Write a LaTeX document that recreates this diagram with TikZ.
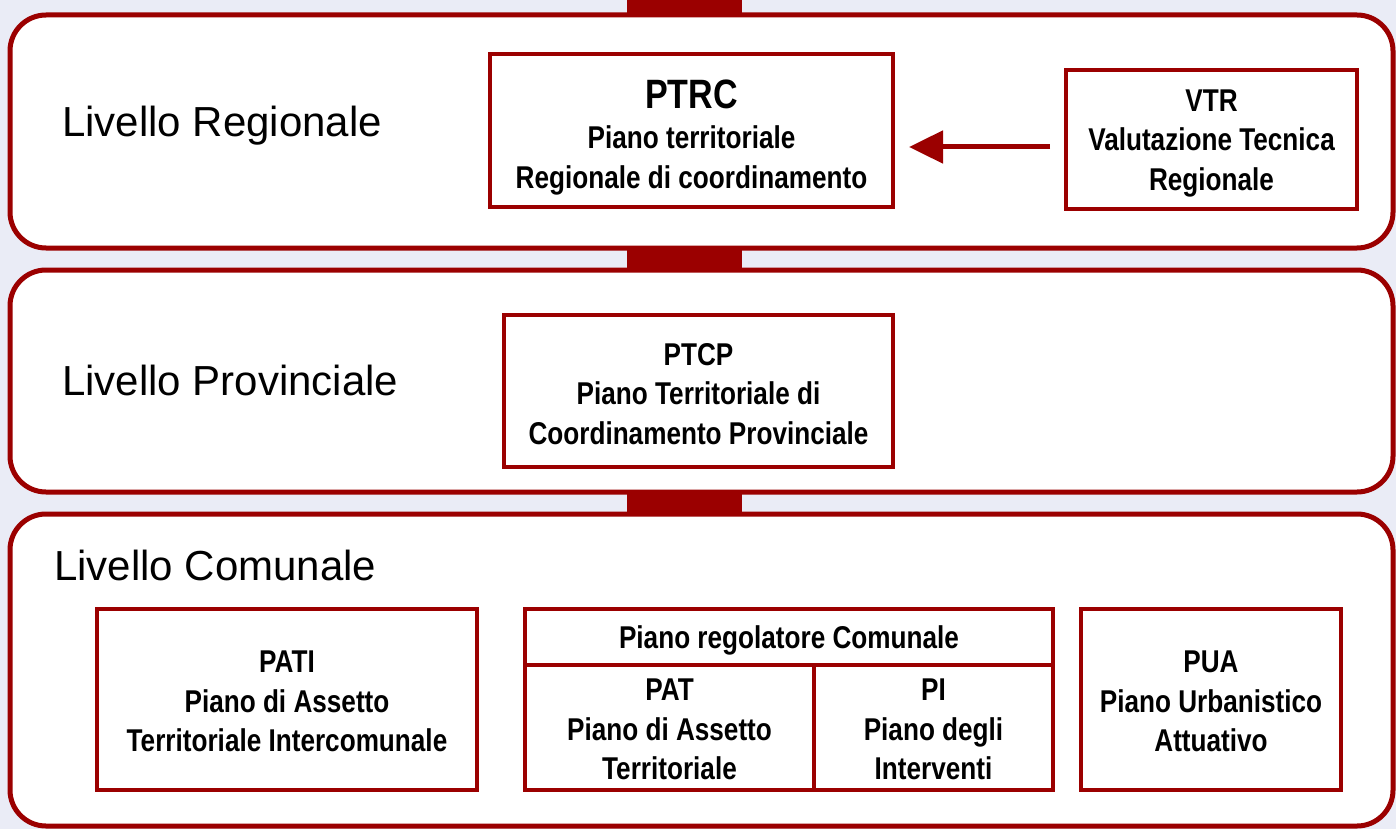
\documentclass[tikz,border=0pt]{standalone}
\usepackage{fontspec}
\setmainfont{Liberation Sans}
\newfontfamily\boxfont{Liberation Sans Bold}[FakeStretch=0.83]
\usetikzlibrary{arrows.meta}
\definecolor{dred}{RGB}{155,0,0}
\definecolor{bgblue}{RGB}{234,236,246}
\tikzset{
  level/.style={draw=dred, line width=5pt, fill=white, rounded corners=36pt},
  lvllabel/.style={anchor=base west, inner sep=0pt, font=\fontsize{42}{50}\selectfont},
  planbox/.style={draw=dred, line width=4pt, fill=white, inner sep=0pt},
  plantext/.style={align=center, inner sep=0pt, font=\boxfont\fontsize{31.5}{39.5}\selectfont},
  conn/.style={dred, line width=5pt, -{Triangle[length=34pt,width=32pt]}},
}
\begin{document}
\begin{tikzpicture}[x=1pt,y=-1pt]
\useasboundingbox (0,0) rectangle (1396,829);
\fill[bgblue] (0,0) rectangle (1396,829);
% vertical connecting bar
\fill[dred] (627,0) rectangle (742,520);
% level frames
\draw[level] (10,15) rectangle (1393,248);
\draw[level] (10,270) rectangle (1393,492);
\draw[level] (10,514) rectangle (1393,826);
% level labels
\node[lvllabel] (lreg) at (62,137) {Livello Regionale};
\node[lvllabel] (lprov) at (62,395) {Livello Provinciale};
\node[lvllabel] (lcom) at (54,580) {Livello Comunale};
% regional
\node[planbox, minimum width=403pt, minimum height=153pt] (ptrc) at (691.5,130.5) {};
\node[plantext, font=\boxfont\fontsize{31.5}{40}\selectfont] (ptrct) at (691.5,138)
  {{\fontsize{41}{40}\selectfont PTRC}\\Piano territoriale\\Regionale di coordinamento};
\node[planbox, minimum width=291pt, minimum height=139pt] (vtr) at (1211.5,139.5) {};
\node[plantext] (vtrt) at (1211.5,143.5)
  {VTR\\Valutazione Tecnica\\Regionale};
\draw[conn, shorten <=14pt, shorten >=14pt] (vtr.west |- 0,147) -- (ptrc.east |- 0,147);
% provincial
\node[planbox, minimum width=389pt, minimum height=152pt] (ptcp) at (698.5,391) {};
\node[plantext] (ptcpt) at (698.5,394)
  {PTCP\\Piano Territoriale di\\Coordinamento Provinciale};
% comunale
\node[planbox, minimum width=380pt, minimum height=181pt] (pati) at (287,699.5) {};
\node[plantext] (patit) at (287,701.5)
  {PATI\\Piano di Assetto\\Territoriale Intercomunale};
\node[planbox, minimum width=528pt, minimum height=56pt] (prc) at (789,637) {};
\node[plantext] (prct) at (789,640)
  {Piano regolatore Comunale};
\node[planbox, minimum width=289pt, minimum height=125pt] (pat) at (669.5,727.5) {};
\node[plantext] (patt) at (669.5,729.5)
  {PAT\\Piano di Assetto\\Territoriale};
\node[planbox, minimum width=239pt, minimum height=125pt] (pi) at (933.5,727.5) {};
\node[plantext] (pit) at (933.5,729.5)
  {PI\\Piano degli\\Interventi};
\node[planbox, minimum width=260pt, minimum height=181pt] (pua) at (1211,699.5) {};
\node[plantext] (puat) at (1211,701.5)
  {PUA\\Piano Urbanistico\\Attuativo};
\end{tikzpicture}
\end{document}
